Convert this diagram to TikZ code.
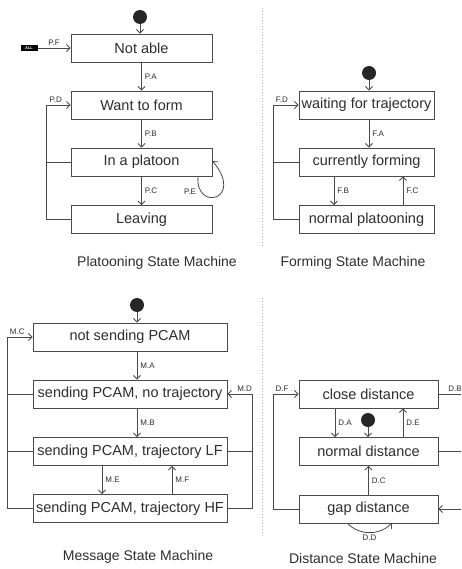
\documentclass[tikz,border=0pt]{standalone}
\usepackage{fontspec}
\setmainfont{Liberation Sans}
\usetikzlibrary{arrows.meta}
\definecolor{ln}{HTML}{4A4A4A}
\definecolor{tx}{HTML}{2E2E2E}
\begin{document}
\begin{tikzpicture}[x=1pt,y=-1pt,
 state/.style={draw=ln, line width=0.9pt, minimum height=28pt, inner sep=0pt, text=tx, font=\fontsize{14.5}{16}\selectfont},
 lbl/.style={text=tx, font=\fontsize{8}{9}\selectfont, inner sep=1pt},
 ttl/.style={text=tx, font=\fontsize{14}{16}\selectfont, inner sep=0pt},
 conn/.style={draw=ln, line width=0.8pt},
 arr/.style={conn, -{Straight Barb[length=3.5pt,width=7pt]}},
 init/.style={circle, fill=black!85, minimum size=14pt, inner sep=0pt},
 sep/.style={draw=gray!60, line width=1pt, dotted}]
\clip (0,0) rectangle (461,569);
\fill[white] (0,0) rectangle (461,569);

% ---------------- Platooning
\node[init] (pi) at (140,17) {};
\node[state, minimum width=141pt] (na) at (141.5,48) {Not able};
\node[state, minimum width=141pt] (wf) at (141.5,105) {Want to form};
\node[state, minimum width=141pt] (ip) at (141.5,162) {In a platoon};
\node[state, minimum width=141pt] (lv) at (141.5,219.5) {Leaving};
\draw[arr] (pi) -- (pi |- na.north);
\draw[arr] (na) -- node[lbl, right=2pt]{P.A} (wf);
\draw[arr] (wf) -- node[lbl, right=2pt]{P.B} (ip);
\draw[arr] (ip) -- node[lbl, right=2pt]{P.C} (lv);
\node[fill=black, text=white, font=\fontsize{4}{4}\selectfont\bfseries, inner sep=0.5pt, minimum width=17pt, minimum height=6pt] (all) at (29,48) {ALL};
\draw[arr] (all) -- node[lbl, above=1pt]{P.F} (na);
\coordinate (pl) at (46,105);
\draw[arr] (lv.west) -| (pl) -- node[lbl, above=1pt, pos=0.4]{P.D} (wf.west);
\draw[conn] (ip.west) -- (ip.west -| pl);
\draw[arr] ([xshift=56.5]ip.south) .. controls (195,212) and (245,200) .. ([yshift=1]ip.east);
\node[lbl] (pe) at (190,192) {P.E};
\node[ttl] (t1) at (157,263) {Platooning State Machine};

% ---------------- Forming
\draw[sep] (262,8) -- (262,247);
\node[init] (fi) at (369,73) {};
\node[state, minimum width=135pt] (wt) at (366.5,105) {waiting for trajectory};
\node[state, minimum width=135pt] (cf) at (366.5,162) {currently forming};
\node[state, minimum width=135pt] (np) at (366.5,219.5) {normal platooning};
\draw[arr] (fi) -- (fi |- wt.north);
\draw[arr] ([xshift=2.5]wt.south) -- node[lbl, right=2pt]{F.A} ([xshift=2.5]cf.north);
\draw[arr] ([xshift=-32.5]cf.south) -- node[lbl, right=2pt]{F.B} ([xshift=-32.5]np.north);
\draw[arr] ([xshift=36.5]np.north) -- node[lbl, right=2pt]{F.C} ([xshift=36.5]cf.south);
\coordinate (fl) at (273,105);
\draw[arr] (np.west) -| (fl) -- node[lbl, above=1pt, pos=0.35]{F.D} (wt.west);
\draw[conn] (cf.west) -- (cf.west -| fl);
\node[ttl] (t2) at (353,263) {Forming State Machine};

% ---------------- Message
\node[init] (mi) at (137,305) {};
\node[state, minimum width=194pt] (ns) at (130,337) {not sending PCAM};
\node[state, minimum width=194pt] (nt) at (130,394) {sending PCAM, no trajectory};
\node[state, minimum width=194pt] (lf) at (130,451.5) {sending PCAM, trajectory LF};
\node[state, minimum width=194pt] (hf) at (130,508.5) {sending PCAM, trajectory HF};
\draw[arr] (mi) -- (mi |- ns.north);
\draw[arr] ([xshift=7]ns.south) -- node[lbl, right=2pt]{M.A} ([xshift=7]nt.north);
\draw[arr] ([xshift=7]nt.south) -- node[lbl, right=2pt]{M.B} ([xshift=7]lf.north);
\draw[arr] ([xshift=-28]lf.south) -- node[lbl, right=2pt]{M.E} ([xshift=-28]hf.north);
\draw[arr] ([xshift=42]hf.north) -- node[lbl, right=2pt]{M.F} ([xshift=42]lf.south);
\coordinate (ml) at (7,337);
\draw[arr] (hf.west) -| (ml) -- node[lbl, above=1pt, pos=0.4]{M.C} (ns.west);
\draw[conn] (nt.west) -- (nt.west -| ml);
\draw[conn] (lf.west) -- (lf.west -| ml);
\coordinate (mr) at (252,394);
\draw[arr] (hf.east) -| (mr) -- node[lbl, above=1pt, pos=0.3]{M.D} (nt.east);
\draw[conn] (lf.east) -- (lf.east -| mr);
\node[ttl] (t3) at (138,557) {Message State Machine};

% ---------------- Distance
\draw[sep] (262,298) -- (262,535);
\node[state, minimum width=139pt] (cd) at (368.5,394) {close distance};
\node[state, minimum width=139pt] (nd) at (368.5,451.5) {normal distance};
\node[state, minimum width=139pt] (gd) at (368.5,509) {gap distance};
\node[init] (di) at (368,420) {};
\draw[arr] (di) -- (di |- nd.north);
\draw[arr] ([xshift=-33.5]cd.south) -- node[lbl, right=2pt]{D.A} ([xshift=-33.5]nd.north);
\draw[arr] ([xshift=34.5]nd.north) -- node[lbl, right=2pt]{D.E} ([xshift=34.5]cd.south);
\draw[arr] (gd.north) -- node[lbl, right=2pt]{D.C} (nd.south);
\coordinate (dl) at (273,394);
\draw[arr] (gd.west) -| (dl) -- node[lbl, above=1pt, pos=0.35]{D.F} (cd.west);
\coordinate (dr) at (480,394);
\draw[arr] (cd.east) -- node[lbl, above=1pt, pos=0.4]{D.B} (dr) |- (gd.east);
\draw[conn] (nd.east) -- (nd.east -| dr);
\draw[arr] ([xshift=-21]gd.south) to[out=-45,in=-135] node[lbl, below=1pt]{D.D} ([xshift=23]gd.south);
\node[ttl] (t4) at (363,558) {Distance State Machine};
\end{tikzpicture}
\end{document}
